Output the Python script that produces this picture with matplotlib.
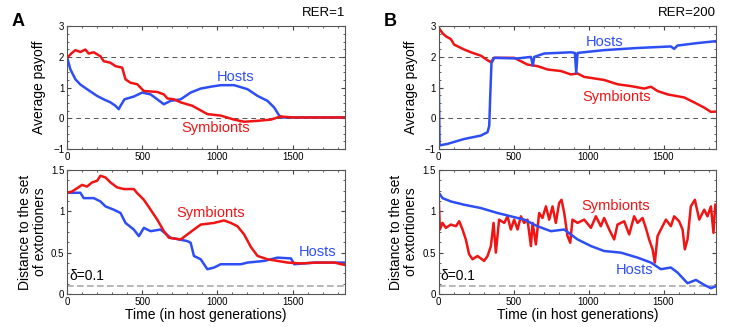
import matplotlib.pyplot as plt
from matplotlib.ticker import AutoMinorLocator

plt.rcParams['font.family'] = ['Liberation Sans', 'DejaVu Sans']

BLUE = '#2d4ef5'
RED = '#f01414'

# Panel A, payoff (RER=1)
a_sym_t = [0, 33, 56, 89, 122, 144, 178, 222, 244, 289, 322, 367, 389, 422, 467, 489, 511, 600, 644, 667,
           711, 756, 833, 933, 1022, 1111, 1178, 1267, 1356, 1400, 1422, 1500, 1850]
a_sym_pay = [1.97, 2.13, 2.22, 2.16, 2.24, 2.11, 2.15, 2.02, 1.86, 1.81, 1.70, 1.65, 1.27, 1.16, 1.11, 1.0,
             0.89, 0.86, 0.78, 0.65, 0.62, 0.52, 0.41, 0.14, 0.09, -0.04, -0.11, -0.08, -0.04, 0.03, 0.06, 0.03, 0.03]
a_host_t = [0, 22, 56, 89, 133, 200, 244, 289, 322, 344, 356, 382, 444, 500, 556, 600, 644, 689, 756, 822,
            889, 956, 1022, 1111, 1200, 1267, 1333, 1378, 1411, 1433, 1850]
a_host_pay = [2.0, 1.6, 1.27, 1.1, 0.95, 0.73, 0.62, 0.52, 0.41, 0.30, 0.41, 0.62, 0.71, 0.84, 0.78, 0.62,
              0.46, 0.57, 0.62, 0.84, 0.97, 1.03, 1.08, 1.08, 0.95, 0.73, 0.57, 0.35, 0.09, 0.03, 0.03]

# Panel B, payoff (RER=200)
b_sym_t = [0, 2, 27, 49, 82, 104, 171, 216, 282, 327, 349, 371, 504, 593, 660, 727, 816, 882, 927, 971,
           1104, 1193, 1282, 1371, 1416, 1460, 1527, 1638, 1704, 1771, 1816, 1845]
b_sym_pay = [2.0, 2.94, 2.77, 2.67, 2.58, 2.40, 2.24, 2.15, 2.04, 1.89, 1.83, 1.97, 1.97, 1.75, 1.70, 1.59,
             1.54, 1.43, 1.46, 1.35, 1.25, 1.11, 1.05, 0.97, 1.03, 0.89, 0.78, 0.68, 0.52, 0.35, 0.21, 0.22]
b_host_t = [0, 7, 60, 171, 282, 327, 338, 344, 353, 371, 527, 616, 629, 638, 704, 882, 909, 918, 927,
            1104, 1327, 1549, 1571, 1593, 1727, 1845]
b_host_pay = [2.0, -0.88, -0.83, -0.67, -0.56, -0.45, -0.24, 0.62, 1.8, 1.97, 1.95, 2.0, 1.72, 2.0, 2.11,
              2.15, 2.13, 1.48, 2.13, 2.22, 2.29, 2.34, 2.26, 2.37, 2.45, 2.51]

# Panel A, distance
a_sym_dt = [0, 33, 67, 100, 133, 167, 200, 222, 256, 289, 333, 378, 444, 467, 511, 556, 600, 644, 678, 756,
            800, 844, 889, 978, 1044, 1089, 1133, 1178, 1222, 1267, 1333, 1400, 1467, 1556, 1667, 1778, 1850]
a_sym_dist = [1.225, 1.24, 1.28, 1.32, 1.30, 1.35, 1.37, 1.43, 1.41, 1.35, 1.29, 1.27, 1.27, 1.22, 1.14,
              1.02, 0.90, 0.76, 0.68, 0.66, 0.72, 0.78, 0.84, 0.86, 0.89, 0.86, 0.82, 0.72, 0.57, 0.46,
              0.42, 0.40, 0.38, 0.37, 0.38, 0.38, 0.35]
a_host_dt = [0, 89, 111, 178, 222, 256, 311, 356, 389, 444, 478, 511, 556, 622, 689, 800, 822, 844, 889,
             933, 978, 1022, 1156, 1200, 1311, 1400, 1489, 1511, 1644, 1850]
a_host_dist = [1.225, 1.225, 1.16, 1.16, 1.12, 1.06, 1.02, 0.98, 0.86, 0.78, 0.70, 0.80, 0.76, 0.78, 0.68,
               0.64, 0.62, 0.46, 0.42, 0.30, 0.32, 0.36, 0.36, 0.38, 0.40, 0.44, 0.43, 0.36, 0.38, 0.38]

# Panel B, distance
b_host_dt = [0, 27, 82, 171, 282, 393, 482, 571, 660, 749, 838, 927, 1016, 1104, 1216, 1327, 1416, 1482,
             1549, 1593, 1660, 1716, 1771, 1816, 1845]
b_host_dist = [1.23, 1.16, 1.12, 1.08, 1.04, 0.98, 0.94, 0.90, 0.82, 0.76, 0.78, 0.66, 0.58, 0.52, 0.50,
               0.44, 0.38, 0.30, 0.32, 0.26, 0.13, 0.17, 0.11, 0.07, 0.09]
b_sym_dt = [0, 9, 27, 49, 82, 116, 138, 160, 182, 204, 227, 260, 304, 327, 349, 367, 382, 404, 438, 460,
            482, 504, 527, 549, 571, 593, 616, 627, 649, 671, 693, 716, 738, 760, 782, 804, 820, 838, 860,
            878, 893, 927, 971, 1016, 1049, 1082, 1104, 1138, 1171, 1193, 1238, 1271, 1304, 1327, 1360,
            1382, 1404, 1427, 1442, 1460, 1482, 1516, 1549, 1571, 1604, 1627, 1642, 1660, 1682, 1709,
            1738, 1771, 1793, 1816, 1833, 1845]
b_sym_dist = [1.23, 0.78, 0.86, 0.80, 0.84, 0.82, 0.88, 0.78, 0.66, 0.48, 0.42, 0.46, 0.40, 0.46, 0.58,
              0.86, 0.50, 0.90, 0.86, 0.94, 0.78, 0.90, 0.78, 0.94, 0.86, 0.90, 0.58, 0.86, 0.60, 0.98,
              0.92, 1.06, 0.90, 1.06, 0.86, 1.10, 1.14, 0.98, 0.70, 0.62, 0.90, 0.86, 0.90, 0.80, 0.94,
              0.82, 0.92, 0.78, 0.66, 0.84, 0.88, 0.72, 0.94, 0.86, 0.92, 0.80, 0.66, 0.54, 0.38, 0.70,
              0.78, 0.90, 0.82, 0.94, 0.88, 0.78, 0.54, 0.66, 1.06, 1.14, 0.90, 1.02, 0.94, 1.06, 0.74, 1.08]

xticks = [0, 500, 1000, 1500]

fig = plt.figure(figsize=(7.42, 3.27), dpi=100)
axA1 = fig.add_axes([0.0903, 0.544, 0.375, 0.376])
axB1 = fig.add_axes([0.591, 0.544, 0.374, 0.376])
axA2 = fig.add_axes([0.0903, 0.101, 0.375, 0.379])
axB2 = fig.add_axes([0.591, 0.101, 0.374, 0.379])


def style(ax):
    ax.set_xlim(0, 1850)
    ax.set_xticks(xticks)
    ax.xaxis.set_minor_locator(AutoMinorLocator(5))
    ax.yaxis.set_minor_locator(AutoMinorLocator(4))
    ax.tick_params(which='both', direction='in', top=True, right=True, labelsize=7, pad=2, color='#444444')
    ax.tick_params(which='major', length=3)
    ax.tick_params(which='minor', length=1.5)
    for s in ax.spines.values():
        s.set_color('#555555')
        s.set_linewidth(0.8)


for ax in (axA1, axB1):
    style(ax)
    ax.set_ylim(-1, 3)
    ax.set_yticks([-1, 0, 1, 2, 3])
    ax.axhline(2, color='#555555', ls=(0, (5, 4)), lw=0.7)
    ax.axhline(0, color='#555555', ls=(0, (5, 4)), lw=0.7)
    ax.set_ylabel('Average payoff', fontsize=10, labelpad=5)

for ax in (axA2, axB2):
    style(ax)
    ax.set_ylim(0, 1.5)
    ax.set_yticks([0, 0.5, 1, 1.5])
    ax.set_yticklabels(['0', '0.5', '1', '1.5'])
    ax.axhline(0.1, color='#aaaaaa', ls=(0, (4, 2)), lw=1.2)
    ax.set_ylabel('Distance to the set\nof extortioners', fontsize=10, labelpad=3, linespacing=1.1)
    ax.set_xlabel('Time (in host generations)', fontsize=10, labelpad=1)
    ax.text(15, 0.13, 'δ=0.1', fontsize=10, ha='left', va='bottom')

lw = 1.8
axA1.plot(a_host_t, a_host_pay, color=BLUE, lw=lw)
axA1.plot(a_sym_t, a_sym_pay, color=RED, lw=lw)
axB1.plot(b_sym_t, b_sym_pay, color=RED, lw=lw)
axB1.plot(b_host_t, b_host_pay, color=BLUE, lw=lw)
axA2.plot(a_host_dt, a_host_dist, color=BLUE, lw=lw)
axA2.plot(a_sym_dt, a_sym_dist, color=RED, lw=lw)
axB2.plot(b_sym_dt, b_sym_dist, color=RED, lw=lw)
axB2.plot(b_host_dt, b_host_dist, color=BLUE, lw=lw)

# series labels
fs = 10.5
axA1.text(1122, 1.35, 'Hosts', color=BLUE, fontsize=fs, ha='center', va='center')
axA1.text(989, -0.32, 'Symbionts', color=RED, fontsize=fs, ha='center', va='center')
axB1.text(1104, 2.5, 'Hosts', color=BLUE, fontsize=fs, ha='center', va='center')
axB1.text(1187, 0.71, 'Symbionts', color=RED, fontsize=fs, ha='center', va='center')
axA2.text(956, 0.98, 'Symbionts', color=RED, fontsize=fs, ha='center', va='center')
axA2.text(1667, 0.51, 'Hosts', color=BLUE, fontsize=fs, ha='center', va='center')
axB2.text(1182, 1.06, 'Symbionts', color=RED, fontsize=fs, ha='center', va='center')
axB2.text(1304, 0.29, 'Hosts', color=BLUE, fontsize=fs, ha='center', va='center')

axA1.text(1.0, 1.06, 'RER=1', transform=axA1.transAxes, ha='right', va='bottom', fontsize=9.5)
axB1.text(1.0, 1.06, 'RER=200', transform=axB1.transAxes, ha='right', va='bottom', fontsize=9.5)
fig.text(18 / 742, 1 - 22 / 327, 'A', fontsize=13, fontweight='bold', ha='center', va='center')
fig.text(390 / 742, 1 - 22 / 327, 'B', fontsize=13, fontweight='bold', ha='center', va='center')

fig.savefig('out.png', dpi=100)
